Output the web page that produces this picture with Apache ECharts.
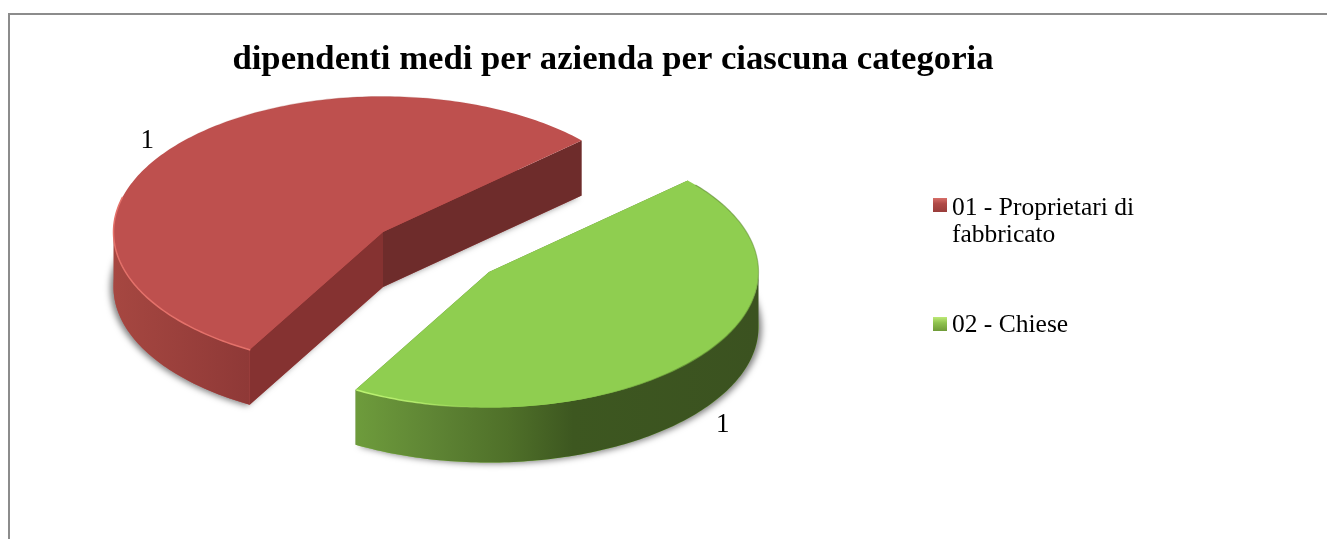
<!DOCTYPE html>
<html><head><meta charset="utf-8">
<style>html,body{margin:0;padding:0;background:#fff}#c{width:1327px;height:539px}</style>
<script src="https://cdn.jsdelivr.net/npm/echarts@6/dist/echarts.min.js"></script>
</head><body><div id="c"></div>
<script>
var categories = ['01 - Proprietari di\nfabbricato', '02 - Chiese'];
var values = [1.22, 1.0];
var titleText = 'dipendenti medi per azienda per ciascuna categoria';

var serif = '"Liberation Serif", serif';
var G = {cx:383, cy:232, a:269.5, b:135.5, depth:55, startDeg:42.5};
var total = values.reduce(function(s,v){return s+v;},0);
function rad(d){return d*Math.PI/180;}
var looks = [
 {top:'#BE504E', cutA:'#853231', cutB:'#6E2C2B', offset:[0,0],
  wall:[[0,'#A64741'],[1,'#8F3937']], wx:[113,248],
  hi:'228,113,106', hiRange:[165,240.5], hiX:[113,248], hiStops:[[0,1],[1,1]],
  shade:'165,67,63', shadeRange:[60,150], shadeX:[150,520], shadeStops:[[0,0],[0.5,0.35],[1,0]]},
 {top:'#8FCE50', cutA:'#5a8030', cutB:'#5a8030', offset:[106,40],
  wall:[[0,'#6E9C3C'],[0.2,'#5E8434'],[0.38,'#4F7029'],[0.54,'#3D5720'],[1,'#3B5220']], wx:[354,760],
  hi:'190,245,115', hiRange:[240.5,290], hiX:[354,480], hiStops:[[0,1],[0.5,0.8],[1,0]],
  shade:'95,140,50', shadeRange:[285,400], shadeX:[570,760], shadeStops:[[0,0],[0.6,0.7],[1,0.5]]}
];
function wedgeRange(i){
  var s=G.startDeg;
  for(var k=0;k<i;k++) s+=values[k]/total*360;
  return [s, s+values[i]/total*360];
}
function rim(o,t,dy){
  return [G.cx+o[0]+G.a*Math.cos(rad(t)), G.cy+o[1]-G.b*Math.sin(rad(t))+(dy||0)];
}
function arc(o,t0,t1,dy){
  var pts=[],steps=Math.max(2,Math.ceil(Math.abs(t1-t0)));
  for(var i=0;i<=steps;i++) pts.push(rim(o,t0+(t1-t0)*i/steps,dy));
  return pts;
}
function poly(points,style){return {type:'polygon',shape:{points:points},style:style};}
function fade(rgb,x,stops){
  return new echarts.graphic.LinearGradient(x[0],0,x[1],0,stops.map(function(s){
    return {offset:s[0],color:'rgba('+rgb+','+s[1]+')'};}),true);
}
function render(i){
  return function(params,api){
    var L=looks[i],o=L.offset,r=wedgeRange(i),t0=r[0],t1=r[1],mid=(t0+t1)/2,d=G.depth;
    var c=[G.cx+o[0],G.cy+o[1]],ch=[];
    var cd=[c[0],c[1]+d];
    ch.push(poly([cd].concat(arc(o,t0,t1,d)),{fill:L.top,shadowColor:'rgba(0,0,0,0.5)',shadowBlur:6,
      shadowOffsetX:Math.cos(rad(mid))*4,shadowOffsetY:1}));
    var p0=rim(o,t0),p1=rim(o,t1);
    ch.push(poly([c,p1,[p1[0],p1[1]+d],cd],{fill:L.cutA}));
    ch.push(poly([c,p0,[p0[0],p0[1]+d],cd],{fill:L.cutB}));
    var wa=Math.max(t0,180),wb=Math.min(t1,360);
    if(wb>wa){
      var up=arc(o,wa,wb,0),dn=arc(o,wb,wa,d);
      ch.push(poly(up.concat(dn),{fill:new echarts.graphic.LinearGradient(L.wx[0],0,L.wx[1],0,
        L.wall.map(function(s){return {offset:s[0],color:s[1]};}),true)}));
    }
    ch.push(poly([c].concat(arc(o,t0,t1,0)),{fill:L.top}));
    ch.push({type:'polyline',shape:{points:arc(o,L.shadeRange[0],L.shadeRange[1],0)},
      style:{stroke:fade(L.shade,L.shadeX,L.shadeStops),lineWidth:1.2,fill:null}});
    ch.push({type:'polyline',shape:{points:arc(o,L.hiRange[0],L.hiRange[1],0)},
      style:{stroke:fade(L.hi,L.hiX,L.hiStops),lineWidth:1.5,fill:null}});
    var lr=1.11, sy=Math.sin(rad(mid));
    var lx=c[0]+G.a*lr*Math.cos(rad(mid))-(sy>0?2:0);
    var ly=c[1]-G.b*lr*sy+(sy<0?d+4:3);
    ch.push({type:'text',style:{text:String(Math.round(values[i])),x:lx,y:ly,align:'center',verticalAlign:'middle',
      font:'27px '+serif,fill:'#000'}});
    return {type:'group',children:ch};
  };
}
function grad(stops){
  return new echarts.graphic.LinearGradient(0,0,0,1,stops.map(function(s){return {offset:s[0],color:s[1]};}));
}
var iconPaths=[
 'path://M0 3h14v14h-14z M0 0h0.01v0.01z M0 54h0.01v0.01z',
 'path://M0 19h14v14h-14z M0 0h0.01v0.01z M0 54h0.01v0.01z'
];
var legendFills=[
 grad([[0.05,'#D9706A'],[0.16,'#B04A47'],[0.31,'#9A3E3B']]),
 grad([[0.35,'#BEEA78'],[0.46,'#8FC24E'],[0.61,'#6F9B38']])
];
var chart=echarts.init(document.getElementById('c'),null,{renderer:'canvas'});
chart.setOption({
  animation:false,
  backgroundColor:'#fff',
  title:{text:titleText,left:608,top:38,textAlign:'center',
    textStyle:{fontFamily:serif,fontSize:34.7,fontWeight:'bold',color:'#000'}},
  legend:{orient:'vertical',left:928,top:190,itemWidth:14,itemHeight:54,itemGap:49,selectedMode:false,
    data:categories.map(function(c,i){return {name:c,icon:iconPaths[i],itemStyle:{color:legendFills[i]}};}),
    textStyle:{fontFamily:serif,fontSize:25.5,lineHeight:27,color:'#000'}},
  graphic:[{type:'polyline',silent:true,shape:{points:[[9,539],[9,14],[1327,14]]},
    style:{stroke:'#8c8c8c',lineWidth:2,fill:null}}],
  series:categories.map(function(c,i){
    return {type:'custom',name:c,coordinateSystem:'none',data:[values[i]],
      itemStyle:{color:looks[i].top},renderItem:render(i)};
  })
});
</script></body></html>
